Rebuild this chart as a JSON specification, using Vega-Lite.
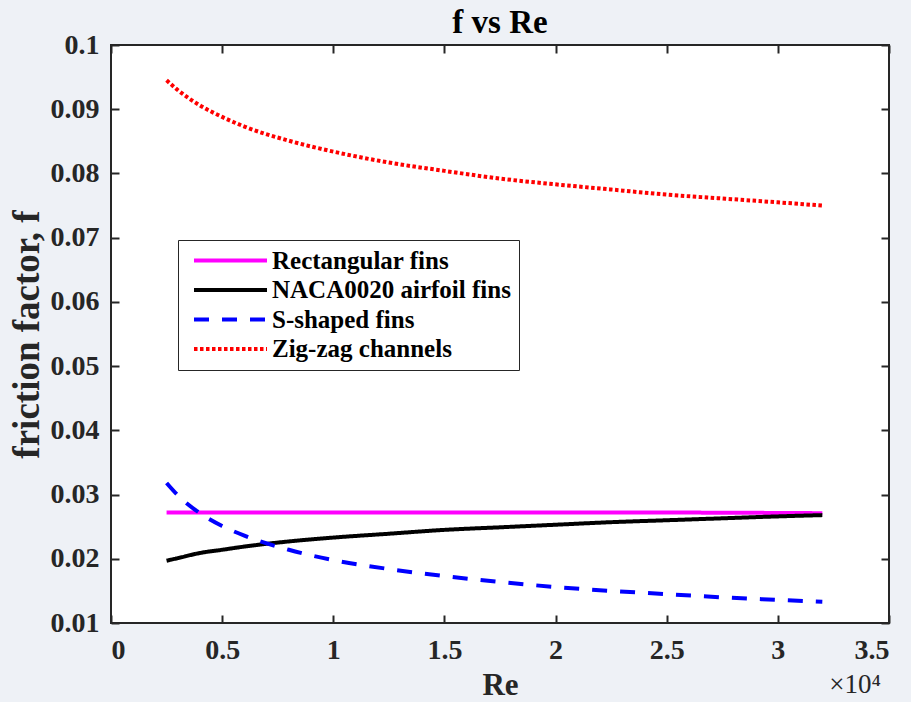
{
  "$schema": "https://vega.github.io/schema/vega-lite/v6.json",
  "width": 778,
  "height": 578,
  "autosize": {"type": "none"},
  "padding": {"left": 111, "top": 45, "right": 22, "bottom": 79},
  "background": "#eef1f6",
  "title": {"text": "f vs Re", "font": "Liberation Serif", "fontSize": 33, "fontWeight": "bold", "color": "#000000", "offset": -9},
  "config": {
    "view": {"stroke": "#262626", "strokeWidth": 2, "fill": "#ffffff"},
    "axis": {"domain": false, "grid": false, "tickColor": "#262626", "tickWidth": 2, "tickSize": -8,
      "labelFont": "Liberation Serif", "labelFontWeight": "bold", "labelFontSize": 28, "labelColor": "#262626",
      "titleFont": "Liberation Serif", "titleFontWeight": "bold", "titleColor": "#262626"}
  },
  "data": {"values": [
    {"Re": 2500, "f": 0.0272, "series": "Rectangular fins"},
    {"Re": 8000, "f": 0.0272, "series": "Rectangular fins"},
    {"Re": 16000, "f": 0.0272, "series": "Rectangular fins"},
    {"Re": 24000, "f": 0.0272, "series": "Rectangular fins"},
    {"Re": 32000, "f": 0.0271, "series": "Rectangular fins"},
    {"Re": 2500, "f": 0.0197, "series": "NACA0020 airfoil fins"},
    {"Re": 3000, "f": 0.0201, "series": "NACA0020 airfoil fins"},
    {"Re": 4000, "f": 0.0209, "series": "NACA0020 airfoil fins"},
    {"Re": 5000, "f": 0.0214, "series": "NACA0020 airfoil fins"},
    {"Re": 6000, "f": 0.0219, "series": "NACA0020 airfoil fins"},
    {"Re": 8000, "f": 0.0227, "series": "NACA0020 airfoil fins"},
    {"Re": 10000, "f": 0.0233, "series": "NACA0020 airfoil fins"},
    {"Re": 12500, "f": 0.0239, "series": "NACA0020 airfoil fins"},
    {"Re": 15000, "f": 0.0245, "series": "NACA0020 airfoil fins"},
    {"Re": 17500, "f": 0.0249, "series": "NACA0020 airfoil fins"},
    {"Re": 20000, "f": 0.0253, "series": "NACA0020 airfoil fins"},
    {"Re": 22500, "f": 0.0257, "series": "NACA0020 airfoil fins"},
    {"Re": 25000, "f": 0.0260, "series": "NACA0020 airfoil fins"},
    {"Re": 27500, "f": 0.0263, "series": "NACA0020 airfoil fins"},
    {"Re": 30000, "f": 0.0266, "series": "NACA0020 airfoil fins"},
    {"Re": 32000, "f": 0.0268, "series": "NACA0020 airfoil fins"},
    {"Re": 2500, "f": 0.0318, "series": "S-shaped fins"},
    {"Re": 3000, "f": 0.0299, "series": "S-shaped fins"},
    {"Re": 4000, "f": 0.0271, "series": "S-shaped fins"},
    {"Re": 5000, "f": 0.0251, "series": "S-shaped fins"},
    {"Re": 6000, "f": 0.0236, "series": "S-shaped fins"},
    {"Re": 8000, "f": 0.0214, "series": "S-shaped fins"},
    {"Re": 10000, "f": 0.0198, "series": "S-shaped fins"},
    {"Re": 12500, "f": 0.0184, "series": "S-shaped fins"},
    {"Re": 15000, "f": 0.0173, "series": "S-shaped fins"},
    {"Re": 17500, "f": 0.0164, "series": "S-shaped fins"},
    {"Re": 20000, "f": 0.0156, "series": "S-shaped fins"},
    {"Re": 22500, "f": 0.0150, "series": "S-shaped fins"},
    {"Re": 25000, "f": 0.0145, "series": "S-shaped fins"},
    {"Re": 27500, "f": 0.0140, "series": "S-shaped fins"},
    {"Re": 30000, "f": 0.0136, "series": "S-shaped fins"},
    {"Re": 32000, "f": 0.0133, "series": "S-shaped fins"},
    {"Re": 2500, "f": 0.0945, "series": "Zig-zag channels"},
    {"Re": 3000, "f": 0.0930, "series": "Zig-zag channels"},
    {"Re": 4000, "f": 0.0906, "series": "Zig-zag channels"},
    {"Re": 5000, "f": 0.0888, "series": "Zig-zag channels"},
    {"Re": 6000, "f": 0.0873, "series": "Zig-zag channels"},
    {"Re": 8000, "f": 0.0851, "series": "Zig-zag channels"},
    {"Re": 10000, "f": 0.0834, "series": "Zig-zag channels"},
    {"Re": 12500, "f": 0.0817, "series": "Zig-zag channels"},
    {"Re": 15000, "f": 0.0804, "series": "Zig-zag channels"},
    {"Re": 17500, "f": 0.0792, "series": "Zig-zag channels"},
    {"Re": 20000, "f": 0.0783, "series": "Zig-zag channels"},
    {"Re": 22500, "f": 0.0775, "series": "Zig-zag channels"},
    {"Re": 25000, "f": 0.0767, "series": "Zig-zag channels"},
    {"Re": 27500, "f": 0.0761, "series": "Zig-zag channels"},
    {"Re": 30000, "f": 0.0755, "series": "Zig-zag channels"},
    {"Re": 32000, "f": 0.0750, "series": "Zig-zag channels"}
  ]},
  "layer": [
    {
      "mark": {"type": "line", "interpolate": "monotone"},
      "encoding": {
        "x": {"field": "Re", "type": "quantitative", "scale": {"domain": [0, 35000], "nice": false},
          "axis": {"orient": "bottom", "values": [0, 5000, 10000, 15000, 20000, 25000, 30000, 35000], "labelExpr": "'' + datum.value / 10000", "labelPadding": 21, "title": "Re", "titleFontSize": 31, "titlePadding": 6}},
        "y": {"field": "f", "type": "quantitative", "scale": {"domain": [0.01, 0.1], "nice": false, "zero": false},
          "axis": {"orient": "left", "values": [0.01, 0.02, 0.03, 0.04, 0.05, 0.06, 0.07, 0.08, 0.09, 0.1], "format": ".2~f", "labelPadding": 20, "title": "friction factor, f", "titleFontSize": 37, "titlePadding": 4}},
        "color": {"field": "series", "type": "nominal",
          "scale": {"domain": ["Rectangular fins", "NACA0020 airfoil fins", "S-shaped fins", "Zig-zag channels"], "range": ["#ff00ff", "#000000", "#0000ff", "#ff0000"]},
          "legend": {"title": null, "orient": "none", "legendX": 67, "legendY": 195, "symbolType": "M-7.3,0H7.3", "symbolSize": 100, "symbolStrokeWidth": 4, "symbolOffset": 32,
            "labelFont": "Liberation Serif", "labelFontWeight": "bold", "labelFontSize": 25, "labelColor": "#000000", "labelOffset": 29, "labelLimit": 400,
            "rowPadding": 3.5, "padding": 8, "strokeColor": "#262626", "fillColor": "#ffffff"}},
        "strokeDash": {"field": "series", "type": "nominal",
          "scale": {"domain": ["Rectangular fins", "NACA0020 airfoil fins", "S-shaped fins", "Zig-zag channels"], "range": [[1, 0], [1, 0], [15, 13], [3.5, 2.5]]},
          "legend": null},
        "strokeWidth": {"value": 4}
      }
    },
    {
      "mark": {"type": "point", "opacity": 0},
      "encoding": {
        "x": {"field": "Re", "type": "quantitative", "scale": {"domain": [0, 35000], "nice": false},
          "axis": {"orient": "top", "values": [0, 5000, 10000, 15000, 20000, 25000, 30000, 35000], "labels": false, "title": null}},
        "y": {"field": "f", "type": "quantitative", "scale": {"domain": [0.01, 0.1], "nice": false, "zero": false},
          "axis": {"orient": "right", "values": [0.01, 0.02, 0.03, 0.04, 0.05, 0.06, 0.07, 0.08, 0.09, 0.1], "labels": false, "title": null}}
      }
    },
    {
      "data": {"values": [{"Re": 35000, "f": 0.01, "label": "×10⁴"}]},
      "mark": {"type": "text", "align": "right", "baseline": "middle", "dy": 62, "dx": -8, "font": "Liberation Serif", "fontSize": 27, "color": "#262626"},
      "encoding": {
        "x": {"field": "Re", "type": "quantitative", "axis": null},
        "y": {"field": "f", "type": "quantitative", "axis": null},
        "text": {"field": "label"}
      }
    }
  ],
  "resolve": {"axis": {"x": "independent", "y": "independent"}}
}
